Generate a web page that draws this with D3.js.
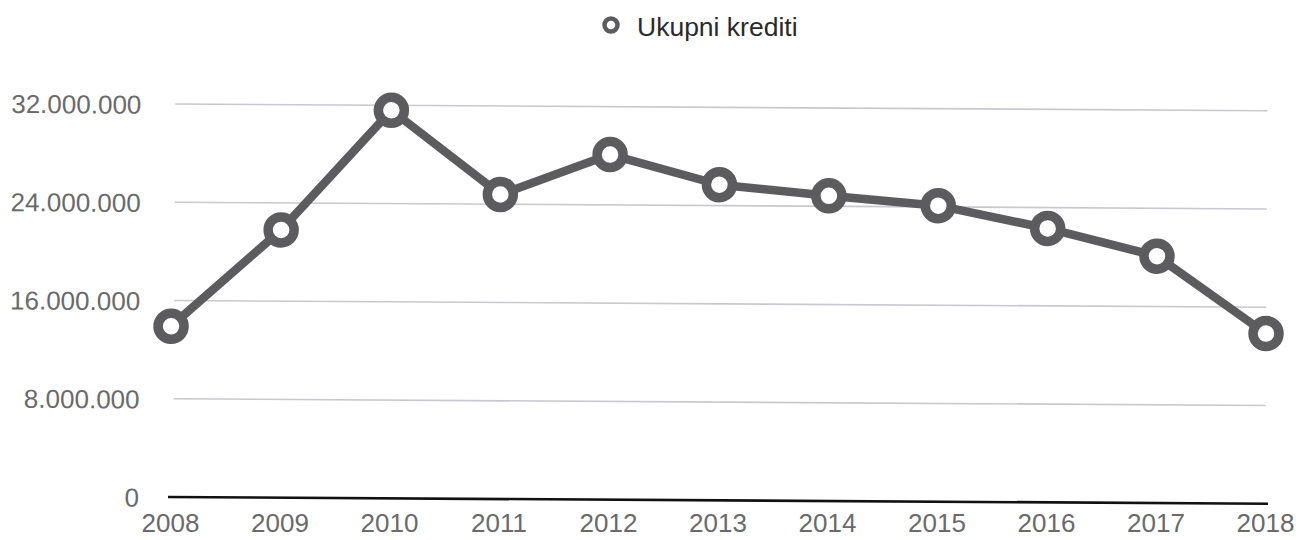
<!DOCTYPE html>
<html>
<head>
<meta charset="utf-8">
<script src="https://cdn.jsdelivr.net/npm/d3@7"></script>
<style>
  html, body { margin: 0; padding: 0; background: #ffffff; }
  svg { display: block; }
  text { font-family: "Liberation Sans", Arial, sans-serif; }
</style>
</head>
<body>
<svg id="chart" width="1305" height="540"></svg>
<script>
// ---- data ----
const years = ["2008", "2009", "2010", "2011", "2012", "2013", "2014", "2015", "2016", "2017", "2018"];
const ukupniKrediti = [13900000, 21800000, 31600000, 24800000, 28100000, 25700000, 24850000, 24100000, 22300000, 20100000, 13850000];
const yTicks = [0, 8000000, 16000000, 24000000, 32000000];
const seriesName = "Ukupni krediti";

// ---- layout ----
const plotLeft = 170, plotRight = 1265, plotTop = 104, plotBottom = 497;
const labelFont = "'Liberation Sans', Arial, sans-serif";

const svg = d3.select("#chart");
const g = svg.append("g")
  .attr("transform", `rotate(0.35, ${plotLeft}, ${plotBottom})`);

const x = d3.scalePoint().domain(years).range([plotLeft, plotRight]);
const y = d3.scaleLinear().domain([0, 32000000]).range([plotBottom, plotTop]);

const fmt = v => d3.format(",")(v).replace(/,/g, ".");

// gridlines
g.append("g").selectAll("line")
  .data(yTicks.filter(d => d > 0))
  .join("line")
  .attr("x1", plotLeft + 3).attr("x2", plotRight)
  .attr("y1", d => y(d)).attr("y2", d => y(d))
  .attr("stroke", "#c9c8cf").attr("stroke-width", 1.6);

// baseline
g.append("line")
  .attr("x1", plotLeft - 2).attr("x2", plotRight + 3)
  .attr("y1", y(0)).attr("y2", y(0))
  .attr("stroke", "#111").attr("stroke-width", 2.6);

// y axis labels
const yAxis = d3.axisLeft(y).tickValues(yTicks).tickFormat(fmt).tickSize(0).tickPadding(0);
const ya = g.append("g").attr("transform", `translate(${plotLeft - 31},0)`).call(yAxis);
ya.select(".domain").remove();
ya.selectAll("text")
  .attr("font-size", 26)
  .attr("fill", "#6a6a6a")
  .attr("font-family", labelFont)
  .attr("dy", "0.36em");

// x axis labels (kept level so they stay inside the frame)
const xAxis = d3.axisBottom(x).tickSize(0).tickPadding(0);
const xa = svg.append("g").attr("transform", `translate(0,${plotBottom})`).call(xAxis);
xa.select(".domain").remove();
xa.selectAll("text")
  .attr("font-size", 26)
  .attr("fill", "#6a6a6a")
  .attr("font-family", labelFont)
  .attr("dy", null).attr("y", 35);

// line
const line = d3.line().x((d, i) => x(years[i])).y(d => y(d));
g.append("path")
  .datum(ukupniKrediti)
  .attr("d", line)
  .attr("fill", "none")
  .attr("stroke", "#5c5c5e")
  .attr("stroke-width", 8.5)
  .attr("stroke-linejoin", "round");

// points
g.append("g").selectAll("circle")
  .data(ukupniKrediti)
  .join("circle")
  .attr("cx", (d, i) => x(years[i]))
  .attr("cy", d => y(d))
  .attr("r", 13)
  .attr("fill", "#ffffff")
  .attr("stroke", "#5c5c5e")
  .attr("stroke-width", 9.5);

// legend
const lg = svg.append("g");
lg.append("circle")
  .attr("cx", 611).attr("cy", 25).attr("r", 6.5)
  .attr("fill", "#fff").attr("stroke", "#5c5c5e").attr("stroke-width", 4.5);
lg.append("text")
  .attr("x", 637).attr("y", 36)
  .attr("font-size", 26.5)
  .attr("fill", "#2a2a2a")
  .text(seriesName);
</script>
</body>
</html>
